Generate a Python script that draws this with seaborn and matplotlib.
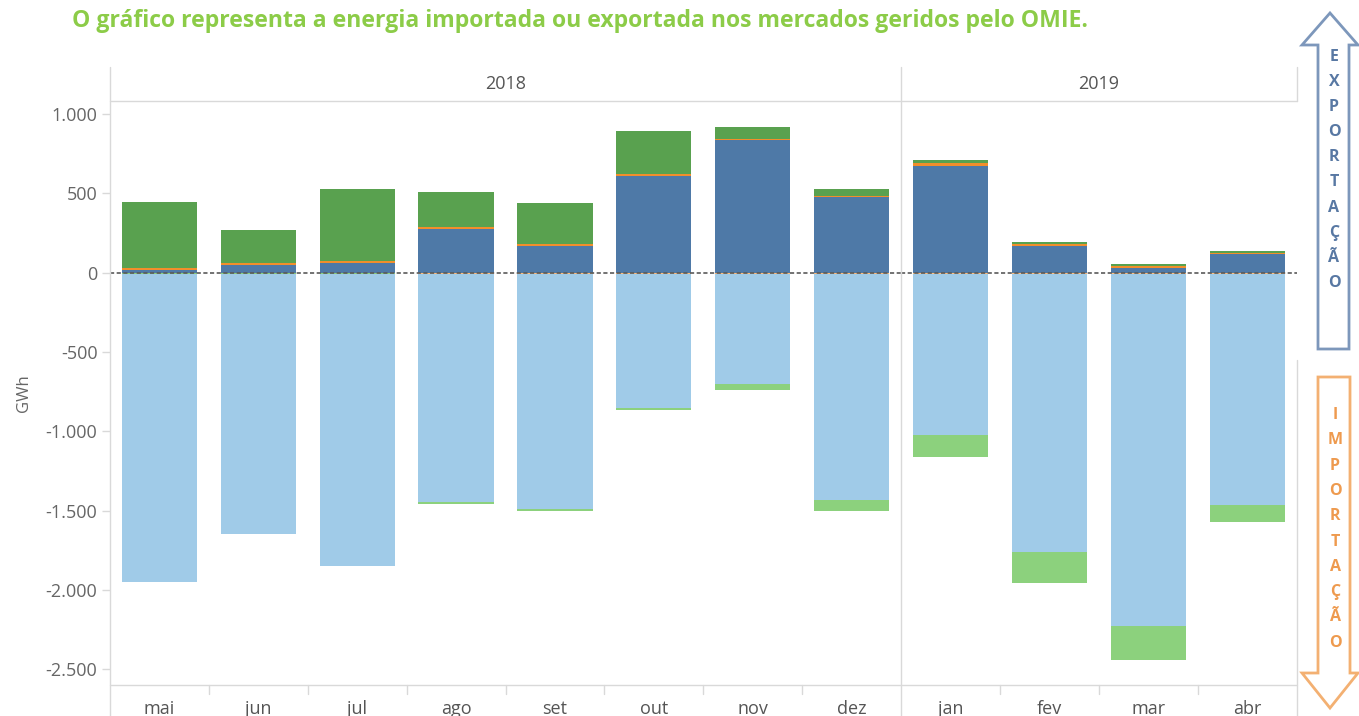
import matplotlib
matplotlib.use("Agg")
import matplotlib.pyplot as plt
from matplotlib.lines import Line2D
from matplotlib.patches import Polygon
from matplotlib.ticker import FixedLocator, FuncFormatter
import numpy as np
import pandas as pd
import seaborn as sns

# ---- data (GWh) ----
months_2018 = ["mai", "jun", "jul", "ago", "set", "out", "nov", "dez"]
months_2019 = ["jan", "fev", "mar", "abr"]
years = ["2018", "2019"]

# exports (positive), stacked bottom -> top
exp_blue = [15, 50, 63, 278, 171, 607, 834, 480, 670, 171, 32, 120]
exp_orange = [13, 13, 13, 13, 13, 13, 7, 7, 25, 13, 13, 6]
exp_green = [420, 209, 449, 215, 258, 271, 75, 38, 13, 12, 12, 13]

# imports (negative), stacked from zero downwards
imp_lightorange = [0, 0, 0, -6, -6, -6, -6, -6, -6, -6, -6, -6]
imp_lightblue = [-1945, -1642, -1844, -1441, -1486, -847, -696, -1429,
                 -1018, -1757, -2219, -1460]
imp_lightgreen = [-8, -8, -8, -13, -12, -12, -38, -69, -139, -196, -215, -108]
# months where the light-green import segment sits next to zero
green_near_zero = ["mai", "jun", "jul"]

title = "O gráfico representa a energia importada ou exportada nos mercados geridos pelo OMIE."
y_label = "GWh"
y_ticks = [1000, 500, 0, -500, -1000, -1500, -2000, -2500]
export_word = "EXPORTAÇÃO"
import_word = "IMPORTAÇÃO"

C_BLUE, C_ORANGE, C_GREEN = "#4e79a7", "#f28e2b", "#59a14f"
C_LBLUE, C_LORANGE, C_LGREEN = "#a0cbe8", "#ffbe7d", "#8cd17d"
GRID = "#d9d9d9"
TXT = "#666666"

sns.set_theme(style="white")
plt.rcParams["font.family"] = ["Open Sans", "DejaVu Sans"]

W, H = 1359, 716
fig = plt.figure(figsize=(W / 100, H / 100), dpi=100)


def fx(x):
    return x / W


def fy(y):
    return 1 - y / H


def fline(x0, y0, x1, y1, color=GRID, lw=1.0):
    fig.add_artist(Line2D([fx(x0), fx(x1)], [fy(y0), fy(y1)],
                          transform=fig.transFigure, color=color, lw=lw))


months_all = months_2018 + months_2019
df = pd.DataFrame({
    "month": months_all,
    "year": ["2018"] * len(months_2018) + ["2019"] * len(months_2019),
    "exp_blue": exp_blue, "exp_orange": exp_orange, "exp_green": exp_green,
    "imp_lightorange": imp_lightorange, "imp_lightblue": imp_lightblue,
    "imp_lightgreen": imp_lightgreen,
})

top_px, bot_px = 101, 685
left_px, mid_px, right_px = 110, 901, 1297
ylim = (-2600, 1083)

panels = [(years[0], months_2018, left_px, mid_px),
          (years[1], months_2019, mid_px, right_px)]
axes = []
for yr, months, x0, x1 in panels:
    ax = fig.add_axes([fx(x0), fy(bot_px), fx(x1 - x0), (bot_px - top_px) / H])
    axes.append(ax)
    sub = df[df["year"] == yr].reset_index(drop=True)

    # positive stack
    bottom = np.zeros(len(sub))
    for col, c in [("exp_blue", C_BLUE), ("exp_orange", C_ORANGE), ("exp_green", C_GREEN)]:
        sns.barplot(data=sub, x="month", y=col, order=months, color=c, width=0.76,
                    errorbar=None, bottom=bottom, linewidth=0, saturation=1, ax=ax)
        bottom = bottom + sub[col].to_numpy()

    # negative stack
    near = sub["month"].isin(green_near_zero).to_numpy()
    order_a = ["imp_lightorange", "imp_lightgreen", "imp_lightblue"]
    order_b = ["imp_lightorange", "imp_lightblue", "imp_lightgreen"]
    colors = {"imp_lightorange": C_LORANGE, "imp_lightblue": C_LBLUE,
              "imp_lightgreen": C_LGREEN}
    for mask, order in [(near, order_a), (~near, order_b)]:
        if not mask.any():
            continue
        part = sub[mask]
        bottom = np.zeros(len(part))
        for col in order:
            vals = part[col].to_numpy()
            ax.bar([months.index(m) for m in part["month"]], vals, width=0.76,
                   bottom=bottom, color=colors[col], linewidth=0)
            bottom = bottom + vals

    ax.axhline(0, color="#5a5a5a", lw=1.2, ls=(0, (2.5, 1.5)), zorder=5)
    ax.set_xlim(-0.5, len(months) - 0.5)
    ax.set_ylim(*ylim)
    ax.set_xlabel("")
    ax.set_ylabel("")
    ax.set_xticks([])
    for s in ax.spines.values():
        s.set_visible(False)
    ax.patch.set_alpha(0)

    # month labels and separators under the pane
    slot = (x1 - x0) / len(months)
    for i, m in enumerate(months):
        fig.text(fx(x0 + slot * (i + 0.5)), fy(709), m, ha="center", va="center",
                 fontsize=13, color="#555555")
        if i > 0:
            fline(x0 + slot * i, bot_px, x0 + slot * i, 694)
    fig.text(fx((x0 + x1) / 2), fy(84), yr, ha="center", va="center",
             fontsize=13, color="#555555")

ax1, ax2 = axes
ax1.yaxis.set_major_locator(FixedLocator(y_ticks))
ax1.yaxis.set_major_formatter(FuncFormatter(
    lambda v, p: f"{int(v):,}".replace(",", ".")))
ax1.tick_params(axis="y", left=True, length=6, width=1, color=GRID,
                labelcolor=TXT, labelsize=13, pad=3)
ax2.set_yticks([])
ax1.set_ylabel(y_label, color=TXT, fontsize=12, labelpad=10)

# frame lines
fline(left_px, 67, left_px, 716)
fline(mid_px, 67, mid_px, 716)
fline(left_px, top_px, right_px, top_px)
fline(left_px, bot_px, right_px, bot_px)
fline(right_px, 67, right_px, top_px)
fline(right_px, 360, right_px, 716)

fig.text(fx(72), fy(21), title, ha="left", va="center", fontsize=16.6,
         fontweight="bold", color="#8ccc48")


# direction arrows
def arrow(points, edge):
    poly = Polygon([(fx(x), fy(y)) for x, y in points], closed=True,
                   transform=fig.transFigure, facecolor="white", edgecolor=edge,
                   lw=2.0, zorder=10)
    fig.add_artist(poly)


arrow([(1330, 13), (1358, 45), (1349, 45), (1349, 349), (1318, 349),
       (1318, 45), (1302, 45)], "#7d97bb")
arrow([(1318, 377), (1350, 377), (1350, 673), (1358, 673), (1330, 708),
       (1302, 673), (1318, 673)], "#f3b072")
for i, ch in enumerate(export_word):
    fig.text(fx(1334), fy(57 + 25.1 * i), ch, ha="center", va="center", fontsize=11.5,
             fontweight="bold", color="#5878a3", zorder=11)
for i, ch in enumerate(import_word):
    fig.text(fx(1335), fy(415 + 25.3 * i), ch, ha="center", va="center", fontsize=11.5,
             fontweight="bold", color="#ee9a4e", zorder=11)

fig.savefig("out.png", dpi=100)
